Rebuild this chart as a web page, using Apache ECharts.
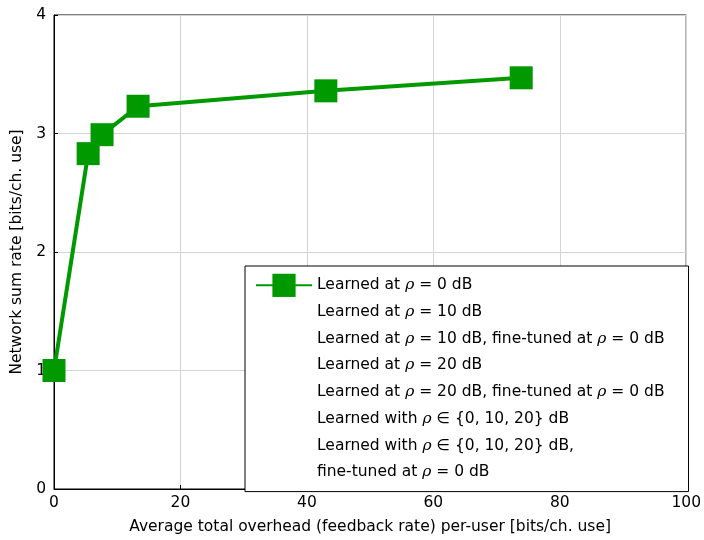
<!DOCTYPE html>
<html>
<head>
<meta charset="utf-8">
<script src="https://cdn.jsdelivr.net/npm/echarts@6/dist/echarts.min.js"></script>
<style>
  html, body { margin: 0; padding: 0; background: #fff; }
  #chart { width: 704px; height: 540px; }
</style>
</head>
<body>
<div id="chart"></div>
<script>
// Feedback overhead (x) vs. network sum rate (y)
const overhead = [0, 5.4, 7.6, 13.3, 43.0, 73.9];
const sumRate = [1.0, 2.83, 2.99, 3.23, 3.36, 3.47];

const xTicks = [0, 20, 40, 60, 80, 100];
const yTicks = [0, 1, 2, 3, 4];

// Legend entries; only the first one has plotted data here
const seriesNames = [
  'Learned at {i|ρ} = 0 dB',
  'Learned at {i|ρ} = 10 dB',
  'Learned at {i|ρ} = 10 dB, fine-tuned at {i|ρ} = 0 dB',
  'Learned at {i|ρ} = 20 dB',
  'Learned at {i|ρ} = 20 dB, fine-tuned at {i|ρ} = 0 dB',
  'Learned with {i|ρ} ∈ {0, 10, 20} dB',
  'Learned with {i|ρ} ∈ {0, 10, 20} dB,\nfine-tuned at {i|ρ} = 0 dB'
];

const FONT = 'DejaVu Sans';
const FS = 15.5;
const GREEN = '#009900';

const points = overhead.map((x, i) => [x, sumRate[i]]);

const series = seriesNames.map((name, i) => {
  if (i === 0) {
    return {
      name, type: 'line', data: points,
      symbol: 'rect', symbolSize: 23,
      itemStyle: { color: GREEN },
      lineStyle: { color: GREEN, width: 4 },
      z: 5
    };
  }
  return {
    name, type: 'line', data: [],
    symbol: 'none',
    itemStyle: { color: 'rgba(0,0,0,0)' },
    lineStyle: { color: 'rgba(0,0,0,0)', width: 0 }
  };
});

const chart = echarts.init(document.getElementById('chart'), null, { renderer: 'canvas' });
chart.setOption({
  animation: false,
  backgroundColor: '#fff',
  textStyle: { fontFamily: FONT },
  grid: {
    left: 54, right: 16, top: 15, bottom: 49,
    show: true, borderColor: '#000', borderWidth: 1, containLabel: false
  },
  xAxis: {
    type: 'value', min: xTicks[0], max: xTicks[xTicks.length - 1], interval: 20,
    name: 'Average total overhead (feedback rate) per-user [bits/ch. use]',
    nameLocation: 'middle', nameGap: 30,
    nameTextStyle: { fontSize: FS, color: '#000', fontFamily: FONT },
    axisLine: { lineStyle: { color: '#000', width: 1 } },
    axisTick: { inside: true, length: 4, lineStyle: { color: '#000' } },
    axisLabel: { fontSize: FS, color: '#000', margin: 6, fontFamily: FONT },
    splitLine: { show: true, lineStyle: { color: '#d4d4d4', width: 1 } }
  },
  yAxis: {
    type: 'value', min: yTicks[0], max: yTicks[yTicks.length - 1], interval: 1,
    name: 'Network sum rate [bits/ch. use]',
    nameLocation: 'middle', nameGap: 27,
    nameTextStyle: { fontSize: FS, color: '#000', fontFamily: FONT },
    axisLine: { show: true, lineStyle: { color: '#000', width: 1 } },
    axisTick: { show: true, inside: true, length: 4, lineStyle: { color: '#000' } },
    axisLabel: { fontSize: FS, color: '#000', margin: 8, fontFamily: FONT },
    splitLine: { show: true, lineStyle: { color: '#d4d4d4', width: 1 } }
  },
  legend: {
    orient: 'vertical',
    left: 245, top: 266,
    padding: [6, 24, 6, 10],
    backgroundColor: '#fff',
    borderColor: '#000', borderWidth: 1, borderRadius: 0,
    itemWidth: 56, itemHeight: 29, itemGap: 0,
    selectedMode: false,
    data: seriesNames,
    textStyle: {
      fontSize: FS, color: '#000', fontFamily: FONT, lineHeight: 26.7,
      rich: { i: { fontStyle: 'italic', fontFamily: 'DejaVu Serif', fontSize: FS, lineHeight: 26.7 } }
    }
  },
  series
});
</script>
</body>
</html>
